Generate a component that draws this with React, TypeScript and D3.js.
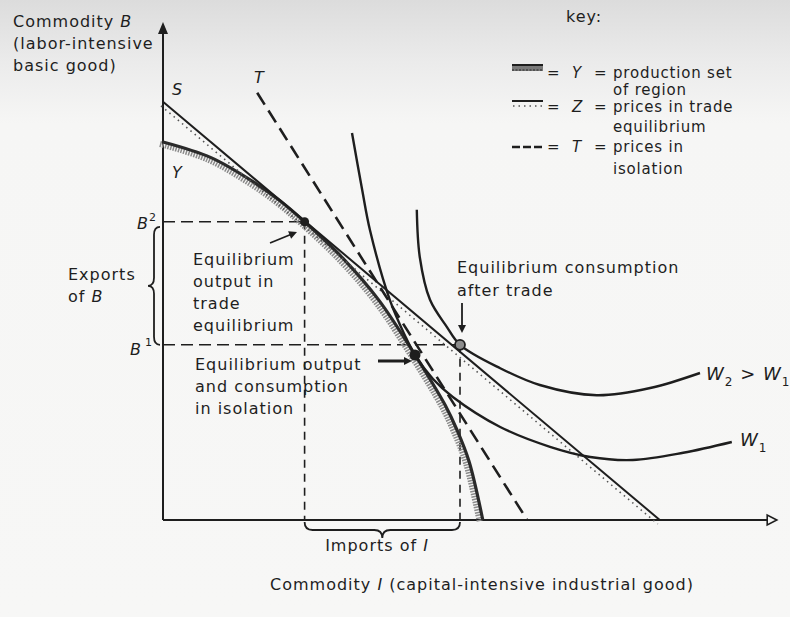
import * as d3 from "d3";

type Pt = [number, number];

// production set Y of the region (concave frontier)
const frontierY: Pt[] = [
  [0, 63], [8, 60.4], [15, 56.4], [19.5, 53.2], [23.6, 49.7], [30, 43.6],
  [36, 36.6], [42, 27.5], [47, 19.2], [49, 15], [51, 9.8], [53.3, 0],
];
// Z: prices in trade equilibrium (line S)
const tradePricesZ: Pt[] = [[0, 69.7], [82.8, 0]];
// T: prices in isolation
const isolationPricesT: Pt[] = [[15.7, 71.2], [60.7, 0]];
// welfare curves
const welfareW1: Pt[] = [
  [31.5, 64.5], [33.2, 55], [34.5, 48.3], [37.8, 36.7], [40.3, 30.8], [42, 27.5],
  [45, 23.5], [48.3, 20.5], [56.2, 15.5], [64.5, 12.2], [71.2, 10.5], [78.3, 10],
  [86.7, 11.2], [94.8, 13],
];
const welfareW2: Pt[] = [
  [42.3, 51.7], [42.8, 43.8], [44.5, 36.7], [47.3, 32.2], [49.5, 29.2], [56.2, 25.3],
  [62.8, 22.5], [72.3, 20.8], [81.2, 22], [89.5, 24.5],
];
const outputTrade: Pt = [23.6, 49.7];
const isolationPoint: Pt = [42, 27.5];
const consumptionTrade: Pt = [49.5, 29.2];

const titleLines = ["(labor-intensive", "basic good)"];
const tradeOutputLines = ["Equilibrium", "output in", "trade", "equilibrium"];
const isolationLines = ["Equilibrium output", "and consumption", "in isolation"];
const consumptionLines = ["Equilibrium consumption", "after trade"];
const keySymbols = ["Y", "Z", "T"];
const keyText = [
  ["production set", "of region"],
  ["prices in trade", "equilibrium"],
  ["prices in", "isolation"],
];

const font = "'DejaVu Sans', Verdana, sans-serif";
const ink = "#1e1e1e";

function head(x1: number, y1: number, x2: number, y2: number, len = 8, w = 4) {
  const a = Math.atan2(y2 - y1, x2 - x1);
  const bx = x2 - len * Math.cos(a), by = y2 - len * Math.sin(a);
  const px = -Math.sin(a) * w, py = Math.cos(a) * w;
  return `${x2},${y2} ${bx + px},${by + py} ${bx - px},${by - py}`;
}

function hBrace(x1: number, x2: number, y0: number, h: number) {
  const m = (x1 + x2) / 2, r = 8;
  return `M${x1},${y0} Q${x1},${y0 + h / 2} ${x1 + r},${y0 + h / 2} L${m - r},${y0 + h / 2} Q${m},${y0 + h / 2} ${m},${y0 + h} Q${m},${y0 + h / 2} ${m + r},${y0 + h / 2} L${x2 - r},${y0 + h / 2} Q${x2},${y0 + h / 2} ${x2},${y0}`;
}

function vBrace(y1: number, y2: number, x0: number, w: number) {
  const m = (y1 + y2) / 2, r = 8;
  return `M${x0},${y1} Q${x0 - w / 2},${y1} ${x0 - w / 2},${y1 + r} L${x0 - w / 2},${m - r} Q${x0 - w / 2},${m} ${x0 - w},${m} Q${x0 - w / 2},${m} ${x0 - w / 2},${m + r} L${x0 - w / 2},${y2 - r} Q${x0 - w / 2},${y2} ${x0},${y2}`;
}

export default function App() {
  const W = 790, H = 617;
  const x = d3.scaleLinear().domain([0, 102]).range([163, 775]);
  const y = d3.scaleLinear().domain([0, 82]).range([520, 28]);
  const line = d3.line<Pt>().x((d) => x(d[0])).y((d) => y(d[1]));
  const smooth = d3.line<Pt>().x((d) => x(d[0])).y((d) => y(d[1])).curve(d3.curveCatmullRom.alpha(0.5));

  const tx = { fontFamily: font, fontSize: 16, letterSpacing: 1, fill: ink } as const;
  const kx = { ...tx, fontSize: 15, letterSpacing: 0.8 } as const;
  const x0 = x(0), yb = y(0);
  const [ox, oy] = [x(outputTrade[0]), y(outputTrade[1])];
  const [ix, iy] = [x(isolationPoint[0]), y(isolationPoint[1])];
  const [cx, cy] = [x(consumptionTrade[0]), y(consumptionTrade[1])];
  const keyRowY = [78, 112, 152];
  const keySubY = [95, 132, 174];

  return (
    <svg width={W} height={H} style={{ position: "absolute", left: 0, top: 0 }}>
      <defs>
        <linearGradient id="paper" x1="0" y1="0" x2="0" y2="1">
          <stop offset="0" stopColor="#dcdcdc" />
          <stop offset="0.1" stopColor="#ebebeb" />
          <stop offset="0.2" stopColor="#f6f6f5" />
          <stop offset="1" stopColor="#f7f7f6" />
        </linearGradient>
      </defs>
      <rect width={W} height={H} fill="url(#paper)" />

      {/* axes */}
      <line x1={x0} y1={yb} x2={x0} y2={y(82) + 4} stroke={ink} strokeWidth={2} />
      <polygon points={`${x0},${y(82) - 6} ${x0 - 5},${y(82) + 6} ${x0 + 5},${y(82) + 6}`} fill={ink} />
      <line x1={x0} y1={yb} x2={x(100.7)} y2={yb} stroke={ink} strokeWidth={2} />
      <polygon points={`${x(102.3)},${yb} ${x(100.7)},${yb - 5} ${x(100.7)},${yb + 5}`} fill="none" stroke={ink} strokeWidth={1.6} />

      {/* guide dashes */}
      <g stroke={ink} strokeWidth={1.6} fill="none">
        <line x1={x0} y1={oy} x2={ox} y2={oy} strokeDasharray="12,6" />
        <line x1={ox} y1={oy} x2={ox} y2={yb} strokeDasharray="8,6" />
        <line x1={x0} y1={cy} x2={cx} y2={cy} strokeDasharray="12,6" />
        <line x1={cx} y1={cy} x2={cx} y2={yb} strokeDasharray="8,6" />
      </g>

      {/* production frontier Y */}
      <path d={smooth(frontierY) ?? ""} fill="none" stroke="#8a8a8a" strokeWidth={6}
        strokeDasharray="1.5,1.2" transform="translate(-3,2)" />
      <path d={smooth(frontierY) ?? ""} fill="none" stroke="#2a2a2a" strokeWidth={3.2} />

      {/* Z line S with stipple */}
      <path d={line(tradePricesZ) ?? ""} fill="none" stroke="#555" strokeWidth={1.6}
        strokeDasharray="1.5,4" transform="translate(-2,4)" />
      <path d={line(tradePricesZ) ?? ""} fill="none" stroke={ink} strokeWidth={2} />

      {/* T line */}
      <path d={line(isolationPricesT) ?? ""} fill="none" stroke={ink} strokeWidth={2.6} strokeDasharray="14,7" />

      {/* welfare curves */}
      <path d={smooth(welfareW1) ?? ""} fill="none" stroke={ink} strokeWidth={2.4} />
      <path d={smooth(welfareW2) ?? ""} fill="none" stroke={ink} strokeWidth={2.4} />

      {/* points */}
      <circle cx={ox} cy={oy} r={4.5} fill={ink} />
      <circle cx={ix} cy={iy} r={5.5} fill={ink} />
      <circle cx={cx} cy={cy} r={5} fill="#8c8c8c" stroke={ink} strokeWidth={1.8} />

      {/* braces */}
      <path d={hBrace(ox, cx, yb + 2, 16)} fill="none" stroke={ink} strokeWidth={1.8} />
      <path d={vBrace(oy + 5, cy, x0 - 3, 12)} fill="none" stroke={ink} strokeWidth={1.8} />

      {/* arrows */}
      <g stroke={ink} fill={ink}>
        <line x1={270} y1={243} x2={292} y2={234} strokeWidth={1.8} />
        <polygon points={head(270, 243, 297, 232)} stroke="none" />
        <line x1={378} y1={361} x2={404} y2={361} strokeWidth={3} />
        <polygon points={head(378, 361, 412, 361)} stroke="none" />
        <line x1={cx + 2} y1={303} x2={cx + 2} y2={326} strokeWidth={1.8} />
        <polygon points={head(cx + 2, 303, cx + 2, 333)} stroke="none" />
      </g>

      {/* axis titles */}
      <text {...tx} x={13} y={27}>Commodity <tspan fontStyle="italic">B</tspan></text>
      {titleLines.map((t, i) => (
        <text key={t} {...tx} x={13} y={49 + i * 22}>{t}</text>
      ))}
      <text {...tx} x={482} y={590} textAnchor="middle">
        Commodity <tspan fontStyle="italic">I</tspan> (capital-intensive industrial good)
      </text>
      <text {...tx} x={377} y={551} textAnchor="middle">
        Imports of <tspan fontStyle="italic">I</tspan>
      </text>
      <text {...tx} x={68} y={280}>Exports</text>
      <text {...tx} x={68} y={302}>of <tspan fontStyle="italic">B</tspan></text>

      {/* curve labels */}
      <text {...tx} x={172} y={95} fontStyle="italic">S</text>
      <text {...tx} x={172} y={178} fontStyle="italic">Y</text>
      <text {...tx} x={254} y={83} fontStyle="italic">T</text>
      <text {...tx} x={137} y={229} fontStyle="italic">B<tspan fontSize={11} fontStyle="normal" dy={-8}>2</tspan></text>
      <text {...tx} x={130} y={355} fontStyle="italic">B<tspan fontSize={11} fontStyle="normal" dy={-9} dx={3}>1</tspan></text>
      <text {...tx} x={706} y={380} fontStyle="italic" fontSize={18}>
        W<tspan fontSize={12} fontStyle="normal" dy={6}>2</tspan>
        <tspan dy={-6} fontStyle="normal"> &gt; </tspan>W<tspan fontSize={12} fontStyle="normal" dy={6}>1</tspan>
      </text>
      <text {...tx} x={740} y={446} fontStyle="italic" fontSize={18}>
        W<tspan fontSize={12} fontStyle="normal" dy={6}>1</tspan>
      </text>

      {/* annotations */}
      {tradeOutputLines.map((t, i) => (
        <text key={t} {...tx} x={193} y={265 + i * 22}>{t}</text>
      ))}
      {isolationLines.map((t, i) => (
        <text key={t} {...tx} x={195} y={370 + i * 22}>{t}</text>
      ))}
      {consumptionLines.map((t, i) => (
        <text key={t} {...tx} x={457} y={273 + i * 23}>{t}</text>
      ))}

      {/* key */}
      <g>
        <text {...tx} x={566} y={22}>key:</text>
        <rect x={512} y={64} width={31} height={7} fill="#7a7a7a" />
        <line x1={512} y1={65} x2={543} y2={65} stroke={ink} strokeWidth={2} />
        <line x1={512} y1={70} x2={543} y2={70} stroke="#444" strokeWidth={1.5} strokeDasharray="2,1.5" />
        <line x1={512} y1={101} x2={543} y2={101} stroke={ink} strokeWidth={2} />
        <line x1={513} y1={106} x2={543} y2={106} stroke="#555" strokeWidth={1.4} strokeDasharray="1.5,4" />
        <line x1={512} y1={147} x2={543} y2={147} stroke={ink} strokeWidth={2.4} strokeDasharray="8,3" />
        {keySymbols.map((s, i) => (
          <g key={s}>
            <text {...kx} x={547} y={keyRowY[i]}>=</text>
            <text {...kx} x={572} y={keyRowY[i]} fontStyle="italic">{s}</text>
            <text {...kx} x={594} y={keyRowY[i]}>=</text>
            <text {...kx} x={613} y={keyRowY[i]}>{keyText[i][0]}</text>
            <text {...kx} x={613} y={keySubY[i]}>{keyText[i][1]}</text>
          </g>
        ))}
      </g>
    </svg>
  );
}
